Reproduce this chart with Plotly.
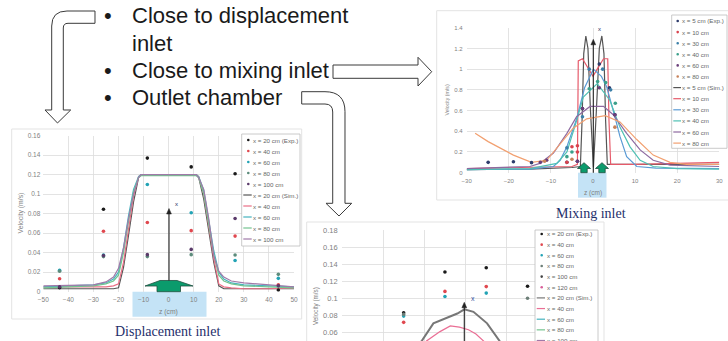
import plotly.graph_objects as go

W, H = 728, 341

# ---------------- Data: Displacement inlet ----------------
d_exp_z = [-43.5, -26, -8.5, 9, 26.5, 43.75]
d_exp = {
    "x = 20 cm (Exp.)": [0.004, 0.0845, 0.137, 0.128, 0.121, 0.0017],
    "x = 40 cm": [0.0133, 0.062, 0.071, 0.0626, 0.057, 0.007],
    "x = 60 cm": [0.022, 0.0376, 0.110, 0.081, 0.032, 0.0137],
    "x = 80 cm": [0.021, 0.036, 0.036, 0.038, 0.0376, 0.0178],
    "x = 100 cm": [0.005, 0.037, 0.038, 0.0434, 0.075, 0.006],
}
d_sim_z = [-50, -40, -30, -25, -22, -20, -18, -16, -14, -12, -11, 11, 12, 14, 16, 18, 20, 22, 25, 30, 40, 50]
d_sim = {
    "x = 20 cm (Sim.)": [0.003, 0.003, 0.003, 0.003, 0.003, 0.004, 0.025, 0.058, 0.092, 0.117, 0.12, 0.12, 0.117, 0.095, 0.062, 0.03, 0.006, 0.003, 0.003, 0.003, 0.003, 0.003],
    "x = 40 cm ": [0.005, 0.005, 0.005, 0.005, 0.006, 0.008, 0.03, 0.065, 0.098, 0.118, 0.12, 0.12, 0.118, 0.1, 0.068, 0.034, 0.008, 0.005, 0.004, 0.003, 0.003, 0.004],
    "x = 60 cm ": [0.005, 0.006, 0.007, 0.009, 0.013, 0.02, 0.045, 0.078, 0.105, 0.118, 0.12, 0.12, 0.118, 0.104, 0.075, 0.042, 0.02, 0.013, 0.009, 0.007, 0.006, 0.005],
    "x = 80 cm ": [0.004, 0.005, 0.006, 0.008, 0.011, 0.017, 0.04, 0.072, 0.102, 0.117, 0.119, 0.119, 0.117, 0.1, 0.07, 0.038, 0.017, 0.011, 0.008, 0.006, 0.005, 0.004],
    "x = 100 cm ": [0.006, 0.0065, 0.007, 0.01, 0.015, 0.024, 0.045, 0.075, 0.1, 0.117, 0.12, 0.12, 0.117, 0.105, 0.075, 0.037, 0.021, 0.015, 0.011, 0.009, 0.0068, 0.005],
}
d_exp_colors = ["#1a1a1a", "#e0484f", "#22a3b5", "#5d8c7c", "#5a3a6a"]
d_sim_colors = ["#555555", "#ea6f85", "#45b3bf", "#74c48f", "#a07aa9"]

# ---------------- Data: Mixing inlet ----------------
m_exp = {
    "x = 5 cm (Exp.)": ([-24.9, -18.9, -14.6, -6.2, -3.7, -2.5, 1.5, 3.9, 5.2], [0.10, 0.106, 0.097, 0.1, 0.11, 0.62, 1.05, 0.82, 0.56]),
    "x = 10 cm": ([-6.2, -5, -3.7, -3.7], [0.1, 0.25, 0.26, 0.2]),
    "x = 30 cm": ([-6.2, -2.5, -0.9, 2.3, 4.2], [0.24, 0.54, 1.0, 1.0, 0.8]),
    "x = 40 cm": ([-6.2, -5, -0.9, 1.1, 3, 5.3], [0.155, 0.2, 0.81, 0.88, 0.87, 0.67]),
    "x = 60 cm": ([-11, -12.5, -3.7, -2.5, 1.5, 5.2], [0.12, 0.1, 0.11, 0.62, 0.82, 0.56]),
    "x = 80 cm": ([-11.5, -5, 5.2], [0.11, 0.13, 0.44]),
}
m_sim = {
    "x = 5 cm (Sim.)": ([-30, -15, -5, -3, -2.6, -2.2, -1.7, -1.2, -0.6, 0.1, 0.8, 1.5, 2.1, 2.6, 3.0, 3.4, 5, 15, 30],
                        [0.03, 0.035, 0.05, 0.06, 0.5, 1.15, 1.32, 1.2, 0.6, 0.05, 0.6, 1.2, 1.32, 1.15, 0.5, 0.08, 0.08, 0.08, 0.08]),
    "x = 10 cm ": ([-30, -15, -5, -3.7, -3.5, -2.5, -1, 0, 1, 2.5, 3.5, 3.8, 4.2, 10, 20, 30],
                   [0.04, 0.05, 0.06, 0.08, 1.08, 1.1, 1.0, 0.93, 1.0, 1.1, 1.1, 0.5, 0.08, 0.08, 0.09, 0.1]),
    "x = 30 cm ": ([-30, -15, -9.4, -7.8, -6.2, -3.9, -2, 0.1, 2, 3.25, 5.2, 6.4, 8, 10.4, 15, 30],
                   [0.03, 0.035, 0.06, 0.12, 0.25, 0.52, 0.82, 1.0, 0.93, 0.83, 0.54, 0.35, 0.155, 0.06, 0.045, 0.04]),
    "x = 40 cm ": ([-30, -15, -8.6, -6.2, -3.9, -2.3, 1, 4, 6.4, 8.8, 11.2, 14.3, 20, 30],
                   [0.03, 0.04, 0.09, 0.2, 0.5, 0.73, 0.86, 0.7, 0.44, 0.25, 0.12, 0.06, 0.04, 0.035]),
    "x = 60 cm ": ([-30, -15, -12.6, -9.4, -6.2, -3.9, -0.7, 2.5, 4.8, 8, 11.2, 14.3, 18.3, 30],
                   [0.04, 0.06, 0.09, 0.19, 0.38, 0.54, 0.64, 0.64, 0.56, 0.38, 0.22, 0.12, 0.074, 0.06]),
    "x = 80 cm ": ([-28, -24.9, -18.9, -14.6, -11, -7.8, -4.7, -1.5, 2.9, 6.4, 10.4, 14.3, 18.3, 22.2, 30],
                   [0.38, 0.3, 0.17, 0.1, 0.12, 0.28, 0.43, 0.52, 0.55, 0.49, 0.32, 0.17, 0.1, 0.08, 0.08]),
}
m_exp_colors = ["#2e3c6c", "#d9434e", "#3b7fa8", "#3a9f8a", "#6b3f7a", "#c8825a"]
m_sim_colors = ["#555555", "#e65a6a", "#5b9bd5", "#4fc1b4", "#8e6aa0", "#f2a070"]

# ---------------- Data: Outlet chamber ----------------
o_exp = {
    "x = 20 cm (Exp.)": ([-15, -5, 5, 15], [0.083, 0.1308, 0.1358, 0.114]),
    "x = 40 cm": ([-15, -5, 5], [0.0717, 0.108, 0.1136]),
    "x = 60 cm": ([-15, -5, 5], [0.079, 0.102, 0.106]),
    "x = 80 cm": ([-15, 15], [0.081, 0.0999]),
    "x = 100 cm": ([], []),
    "x = 120 cm": ([], []),
}
o_sim = {
    "x = 20 cm (Sim.)": ([-13, -10.6, -7.8, -4.5, -2, -0.3, 1.9, 5.2, 8.2, 11],
                         [0.038, 0.05, 0.0705, 0.0772, 0.082, 0.087, 0.084, 0.0705, 0.05, 0.035]),
    "x = 40 cm ": ([-12, -9.4, -6.2, -3.7, -1.5, 0.7, 2.5, 4.7, 7],
                   [0.038, 0.05, 0.0608, 0.0675, 0.066, 0.063, 0.058, 0.048, 0.038]),
    "x = 60 cm ": ([], []),
    "x = 80 cm ": ([], []),
    "x = 100 cm ": ([], []),
}
o_exp_colors = ["#1a1a1a", "#e0484f", "#22a3b5", "#6d7f78", "#444444", "#d9609a"]
o_sim_colors = ["#777777", "#ea6f95", "#45b3bf", "#74c48f", "#a07aa9"]

bullets = ["Close to displacement", "inlet", "Close to mixing inlet", "Outlet chamber"]
titles = ["Displacement inlet", "Mixing inlet"]

# ---------------- helpers ----------------
def PX(x):
    return x / W


def PY(y):
    return 1 - y / H


def path(segs):
    out = []
    for s in segs:
        if s[0] == 'Z':
            out.append('Z')
        elif s[0] == 'Q':
            out.append('Q%.5f,%.5f %.5f,%.5f' % (PX(s[1]), PY(s[2]), PX(s[3]), PY(s[4])))
        else:
            out.append('%s%.5f,%.5f' % (s[0], PX(s[1]), PY(s[2])))
    return ' '.join(out)


fig = go.Figure()
shapes = []
annos = []
FONT = "Liberation Sans, Arial, sans-serif"


def add_series(xa, ya, exp, exp_colors, sim, sim_colors, exp_z=None, lw=1.2, first_lw=None):
    for i, ((name, vals), c) in enumerate(zip(sim.items(), sim_colors)):
        z, v = vals if isinstance(vals, tuple) else (d_sim_z, vals)
        if len(z) == 0:
            continue
        w = first_lw if (first_lw and i == 0) else lw
        fig.add_trace(go.Scatter(x=z, y=v, mode='lines', name=name, line=dict(color=c, width=w),
                                 xaxis=xa, yaxis=ya, showlegend=False, hoverinfo='skip'))
    for (name, vals), c in zip(exp.items(), exp_colors):
        z, v = vals if isinstance(vals, tuple) else (exp_z, vals)
        if len(z) == 0:
            continue
        fig.add_trace(go.Scatter(x=z, y=v, mode='markers', name=name,
                                 marker=dict(color=c, size=3.6, line=dict(width=0)),
                                 xaxis=xa, yaxis=ya, showlegend=False, hoverinfo='skip'))


add_series('x', 'y', d_exp, d_exp_colors, d_sim, d_sim_colors, exp_z=d_exp_z)
add_series('x2', 'y2', m_exp, m_exp_colors, m_sim, m_sim_colors)
add_series('x3', 'y3', o_exp, o_exp_colors, o_sim, o_sim_colors, first_lw=2.0)


# chart boxes
def box(x0, y0, x1, y1, line='#e3e3e3', fill='white', layer='below', width=1):
    shapes.append(dict(type='rect', xref='paper', yref='paper', x0=PX(x0), x1=PX(x1), y0=PY(y1), y1=PY(y0),
                       line=dict(color=line, width=width), fillcolor=fill, layer=layer))


box(11.7, 129, 301.7, 319)
box(436.7, 10.7, 730, 200)
box(306.7, 222, 604, 345)

# light-blue inlet rectangles
box(132.5, 291.7, 206.5, 316.7, line='rgba(0,0,0,0)', fill='#c4e3f6', width=0)
box(578, 172.7, 606.5, 197.7, line='rgba(0,0,0,0)', fill='#c4e3f6', width=0)

# hollow arrows
arrow_style = dict(type='path', xref='paper', yref='paper', line=dict(color='#3a3a3a', width=1),
                   fillcolor='white', layer='above')
shapes.append(dict(arrow_style, path=path([
    ('M', 95, 11), ('L', 67, 11), ('Q', 51.7, 11, 51.7, 26), ('L', 51.7, 110), ('L', 45, 110),
    ('L', 57.5, 123), ('L', 70.7, 110), ('L', 63.3, 110), ('L', 63.3, 28), ('Q', 63.3, 23.3, 68, 23.3),
    ('L', 95, 23.3), ('Z',)])))
shapes.append(dict(arrow_style, path=path([
    ('M', 333, 65), ('L', 418, 65), ('L', 418, 57.3), ('L', 431.7, 71.7), ('L', 418, 86),
    ('L', 418, 78.3), ('L', 333, 78.3), ('Z',)])))
shapes.append(dict(arrow_style, path=path([
    ('M', 301.7, 91.7), ('L', 325, 91.7), ('Q', 345, 91.7, 345, 111.7), ('L', 345, 203.3),
    ('L', 351.7, 203.3), ('L', 339, 216), ('L', 326, 203.3), ('L', 332.7, 203.3), ('L', 332.7, 112),
    ('Q', 332.7, 104, 325, 104), ('L', 301.7, 104), ('Z',)])))

# green inlet arrows
green = dict(type='path', xref='paper', yref='paper', line=dict(color='#1f4f40', width=0.8),
             fillcolor='#0b9b6c', layer='above')
shapes.append(dict(green, path=path([
    ('M', 157, 291.7), ('L', 157, 286), ('L', 145, 286), ('L', 160, 280.5), ('L', 177, 280.5),
    ('L', 193, 286), ('L', 180.5, 286), ('L', 180.5, 291.7), ('Z',)])))
for cx in (584.0, 602.0):
    shapes.append(dict(green, path=path([
        ('M', cx - 3.2, 172.7), ('L', cx - 3.2, 168.5), ('L', cx - 6.5, 168.5), ('L', cx, 162.7),
        ('L', cx + 6.5, 168.5), ('L', cx + 3.2, 168.5), ('L', cx + 3.2, 172.7), ('Z',)])))


# black vertical arrows
def black_arrow(x, y0, y1):
    shapes.append(dict(type='line', xref='paper', yref='paper', x0=PX(x), x1=PX(x), y0=PY(y0), y1=PY(y1 + 4),
                       line=dict(color='#222222', width=1.1), layer='above'))
    shapes.append(dict(type='path', xref='paper', yref='paper', layer='above',
                       path=path([('M', x - 2.4, y1 + 5.5), ('L', x, y1), ('L', x + 2.4, y1 + 5.5), ('Z',)]),
                       fillcolor='#222222', line=dict(color='#222222', width=0.5)))


black_arrow(169, 280.5, 208.5)
black_arrow(593.3, 172.7, 39.3)
black_arrow(464.3, 341, 302.3)


def text(x, y, s, size, color='#7f7f7f', xanchor='center', angle=0, family=FONT):
    annos.append(dict(xref='paper', yref='paper', x=PX(x), y=PY(y), text=s, showarrow=False,
                      xanchor=xanchor, yanchor='middle', textangle=angle,
                      font=dict(family=family, size=size, color=color), borderpad=0))


text(176, 204.3, 'x', 6, color='#1f2f5f')
text(599, 29.3, 'x', 6, color='#1f2f5f')
text(473.3, 298, 'x', 7, color='#2f4f9f')

# axis titles
text(20, 213.5, 'Velocity (m/s)', 6.8, angle=-90)
text(168.7, 311.7, 'z (cm)', 6.8)
text(447, 100.5, 'Velocity (m/s)', 5.2, angle=-90)
text(593.3, 192.7, 'z (cm)', 6.5)
text(316, 306, 'Velocity (m/s)', 6.3, angle=-90)

# chart titles
serif = "Liberation Serif, Times New Roman, serif"
text(167, 331.5, titles[0], 14, color='#1f2f6b', family=serif)
text(591, 213.5, titles[1], 14, color='#1f2f6b', family=serif)

# bullet text
for s, y in zip(bullets, [16, 43, 70.7, 98]):
    text(131, y, s, 22, color='#1a1a1a', xanchor='left')
for y in [16, 70.7, 98]:
    text(107.5, y, '•', 22, color='#1a1a1a')


# manual legends
def legend(bx, rows, exp, exp_colors, sim, sim_colors, mx, tx, lx0, lx1, fs=6.2):
    box(*bx, line='#bdbdbd', fill='white', layer='above', width=0.8)
    labels = list(exp.keys()) + list(sim.keys())
    kinds = ['m'] * len(exp) + ['l'] * len(sim)
    cols = exp_colors + sim_colors
    for y, lab, k, c in zip(rows, labels, kinds, cols):
        if k == 'm':
            shapes.append(dict(type='circle', xref='paper', yref='paper', x0=PX(mx - 1.3), x1=PX(mx + 1.3),
                               y0=PY(y + 1.3), y1=PY(y - 1.3), fillcolor=c, line=dict(width=0), layer='above'))
        else:
            shapes.append(dict(type='line', xref='paper', yref='paper', x0=PX(lx0), x1=PX(lx1), y0=PY(y), y1=PY(y),
                               line=dict(color=c, width=1.2), layer='above'))
        text(tx, y, lab.strip(), fs, color='#666666', xanchor='left')


legend((241.7, 134, 300, 246), [140 + 11 * i for i in range(10)], d_exp, d_exp_colors, d_sim, d_sim_colors,
       248.3, 252.2, 243.3, 251.7)
legend((671.7, 15, 727, 148.3), [21 + 11.1 * i for i in range(12)], m_exp, m_exp_colors, m_sim, m_sim_colors,
       677.7, 681.2, 673.3, 681)
legend((535, 230, 598, 350), [234 + 10.65 * i for i in range(11)], o_exp, o_exp_colors, o_sim, o_sim_colors,
       541.7, 546.2, 536.7, 545)

ax_common = dict(showgrid=True, gridcolor='#dcdcdc', gridwidth=0.8, zeroline=False, showline=False,
                 ticks='', tickfont=dict(family=FONT, size=6.5, color='#7f7f7f'))

fig.update_layout(
    width=W, height=H, margin=dict(l=0, r=0, t=0, b=0, autoexpand=False),
    paper_bgcolor='white', plot_bgcolor='rgba(0,0,0,0)', showlegend=False,
    xaxis=dict(ax_common, domain=[PX(43.3), PX(294)], range=[-50, 50], dtick=10, tick0=-50, anchor='y',
               ticklabelstandoff=3),
    yaxis=dict(ax_common, domain=[PY(291.7), PY(135.7)], range=[0, 0.16], dtick=0.02, tick0=0, anchor='x',
               ticklabelstandoff=2),
    xaxis2=dict(ax_common, domain=[PX(466.7), PX(719.3)], range=[-30, 30], dtick=10, tick0=-30, anchor='y2',
                tickfont=dict(family=FONT, size=6, color='#7f7f7f'), ticklabelstandoff=3),
    yaxis2=dict(ax_common, domain=[PY(172.7), PY(27.7)], range=[0, 1.4], dtick=0.2, tick0=0, anchor='x2',
                tickfont=dict(family=FONT, size=6, color='#7f7f7f'), ticklabelstandoff=3),
    xaxis3=dict(ax_common, domain=[PX(341.7), PX(589.5)], range=[-30, 30], dtick=10, tick0=-30, anchor='y3',
                showticklabels=False),
    yaxis3=dict(ax_common, domain=[0, PY(230)], range=[0.0498, 0.18], dtick=0.02, tick0=0, anchor='x3',
                tickfont=dict(family=FONT, size=7.5, color='#7f7f7f'), ticklabelstandoff=3),
    shapes=shapes, annotations=annos,
)

fig.write_html(
    "out.html",
    config={"displayModeBar": False, "staticPlot": True},
    post_script="document.body.style.margin='0';document.body.style.padding='0';"
                "document.body.style.overflow='hidden';document.documentElement.style.overflow='hidden';",
)
